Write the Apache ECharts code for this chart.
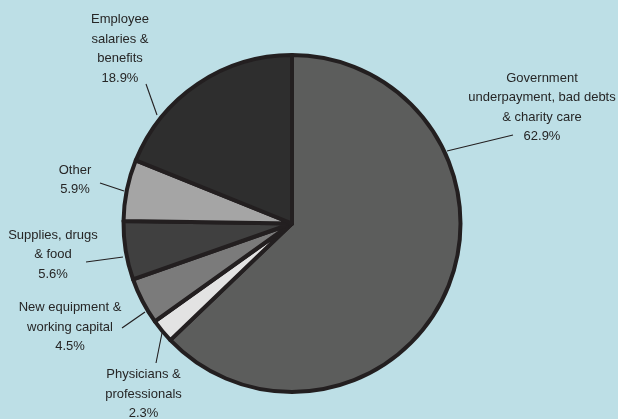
<!DOCTYPE html>
<html>
<head>
<meta charset="utf-8">
<script src="https://cdn.jsdelivr.net/npm/echarts@6/dist/echarts.min.js"></script>
<style>
html,body{margin:0;padding:0;background:#bddfe6;}
#chart{width:618px;height:419px;}
</style>
</head>
<body>
<div id="chart"></div>
<script>
// Data
var categories = [
  'Government\nunderpayment, bad debts\n& charity care',
  'Physicians &\nprofessionals',
  'New equipment &\nworking capital',
  'Supplies, drugs\n& food',
  'Other',
  'Employee\nsalaries &\nbenefits'
];
var values = [62.9, 2.3, 4.5, 5.6, 5.9, 18.9];
var sliceColors = ['#5c5d5c', '#e3e3e3', '#7b7b7b', '#404040', '#a5a5a5', '#2e2e2e'];

// Label layout (positions of text blocks and leader lines)
var labelPos = [
  {x: 542, y: 107.5, line: [[513, 135], [447, 151]]},
  {x: 143.5, y: 394, line: [[156, 363], [162, 333]]},
  {x: 70, y: 327, line: [[122, 328], [145, 312]]},
  {x: 53, y: 254.5, line: [[86, 262], [123, 257]]},
  {x: 75, y: 180, line: [[100, 183], [124, 191]]},
  {x: 120, y: 49, line: [[146, 84], [157, 115]]}
];

var chart = echarts.init(document.getElementById('chart'), null, {renderer: 'canvas'});
chart.setOption({
  backgroundColor: '#bddfe6',
  animation: false,
  series: [{
    type: 'pie',
    center: [292, 223.5],
    radius: 168.5,
    startAngle: 90,
    clockwise: true,
    avoidLabelOverlap: false,
    itemStyle: {borderColor: '#231f20', borderWidth: 4},
    emphasis: {disabled: true},
    label: {
      show: true,
      position: 'outside',
      formatter: function (p) { return p.name + '\n' + p.value.toFixed(1) + '%'; },
      fontFamily: '"Liberation Sans", Arial, sans-serif',
      fontSize: 13,
      lineHeight: 19.5,
      color: '#262626',
      align: 'center'
    },
    labelLine: {show: true, lineStyle: {color: '#231f20', width: 1.1}},
    labelLayout: function (params) {
      var lp = labelPos[params.dataIndex];
      var a = lp.line[0], b = lp.line[1];
      return {
        x: lp.x,
        y: lp.y,
        align: 'center',
        verticalAlign: 'middle',
        labelLinePoints: [a, [(a[0] + b[0]) / 2, (a[1] + b[1]) / 2], b]
      };
    },
    data: categories.map(function (c, i) {
      return {name: c, value: values[i], itemStyle: {color: sliceColors[i]}};
    })
  }]
});
</script>
</body>
</html>
